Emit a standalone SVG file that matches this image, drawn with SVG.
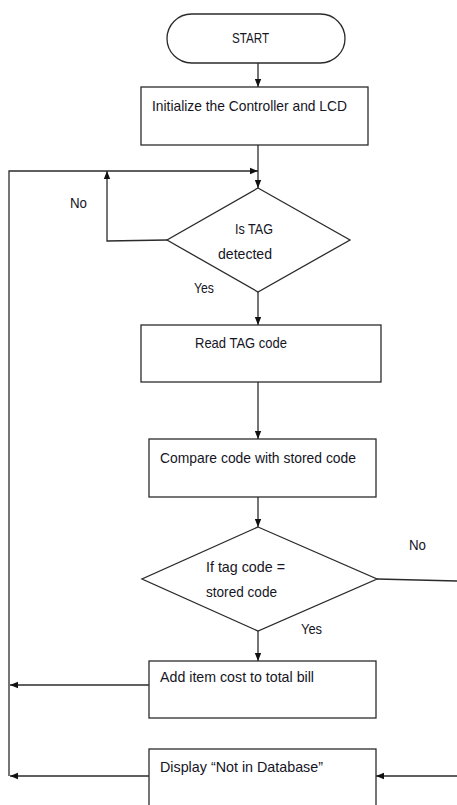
<svg xmlns="http://www.w3.org/2000/svg" width="457" height="805" viewBox="0 0 457 805">
<style>
.s{fill:#fff;stroke:#2b2b2b;stroke-width:1.3}
.c{fill:none;stroke:#2b2b2b;stroke-width:1.3}
text{font-family:"Liberation Sans",Arial,sans-serif;font-size:14.8px;fill:#151525}
</style>
<defs>
<marker id="ah" viewBox="0 0 10 10" refX="10" refY="5" markerWidth="8" markerHeight="8" markerUnits="userSpaceOnUse" orient="auto">
<path d="M0,1 L10,5 L0,9 Z" fill="#111"/>
</marker>
</defs>
<rect width="457" height="805" fill="#fff"/>
<g id="connectors">
<line class="c" x1="258" y1="63" x2="258" y2="87" marker-end="url(#ah)"/>
<line class="c" x1="258" y1="145" x2="258" y2="188" marker-end="url(#ah)"/>
<polyline class="c" points="9,776 9,171 258,171" marker-end="url(#ah)"/>
<polyline class="c" points="167,240 107,241 107,171" marker-end="url(#ah)"/>
<line class="c" x1="258" y1="292" x2="258" y2="325" marker-end="url(#ah)"/>
<line class="c" x1="258" y1="382" x2="258" y2="439" marker-end="url(#ah)"/>
<line class="c" x1="258" y1="497" x2="258" y2="527" marker-end="url(#ah)"/>
<line class="c" x1="377" y1="579" x2="457" y2="581"/>
<line class="c" x1="258" y1="631" x2="258" y2="661" marker-end="url(#ah)"/>
<line class="c" x1="149" y1="685" x2="10" y2="685" marker-end="url(#ah)"/>
<line class="c" x1="149" y1="776" x2="10" y2="776" marker-end="url(#ah)"/>
<line class="c" x1="457" y1="776" x2="376" y2="776" marker-end="url(#ah)"/>
<text x="70" y="208" textLength="17" lengthAdjust="spacingAndGlyphs">No</text>
<text x="194" y="293" textLength="20" lengthAdjust="spacingAndGlyphs">Yes</text>
<text x="409" y="550" textLength="17" lengthAdjust="spacingAndGlyphs">No</text>
<text x="301" y="634" textLength="21" lengthAdjust="spacingAndGlyphs">Yes</text>
</g>
<g id="start">
<rect class="s" x="167" y="14" width="178" height="49" rx="24.5"/>
<text x="232" y="43" textLength="37" lengthAdjust="spacingAndGlyphs">START</text>
</g>
<g id="init">
<rect class="s" x="141" y="87" width="227" height="58"/>
<text x="152" y="111" textLength="195" lengthAdjust="spacingAndGlyphs">Initialize the Controller and LCD</text>
</g>
<g id="tagDetected">
<polygon class="s" points="258,188 350,240 258,292 167,240"/>
<text x="235" y="234" textLength="38" lengthAdjust="spacingAndGlyphs">Is TAG</text>
<text x="218" y="259" textLength="54" lengthAdjust="spacingAndGlyphs">detected</text>
</g>
<g id="readTag">
<rect class="s" x="141" y="325" width="240" height="57"/>
<text x="195" y="348" textLength="92" lengthAdjust="spacingAndGlyphs">Read TAG code</text>
</g>
<g id="compare">
<rect class="s" x="149" y="439" width="227" height="58"/>
<text x="160" y="463" textLength="196" lengthAdjust="spacingAndGlyphs">Compare code with stored code</text>
</g>
<g id="ifMatch">
<polygon class="s" points="258,527 377,579 258,631 142,579"/>
<text x="206" y="572" textLength="79" lengthAdjust="spacingAndGlyphs">If tag code =</text>
<text x="206" y="597" textLength="71" lengthAdjust="spacingAndGlyphs">stored code</text>
</g>
<g id="addCost">
<rect class="s" x="149" y="661" width="227" height="57"/>
<text x="160" y="682" textLength="154" lengthAdjust="spacingAndGlyphs">Add item cost to total bill</text>
</g>
<g id="display">
<rect class="s" x="149" y="749" width="227" height="70"/>
<text x="160" y="772" textLength="163" lengthAdjust="spacingAndGlyphs">Display  “Not in Database”</text>
</g>
</svg>
